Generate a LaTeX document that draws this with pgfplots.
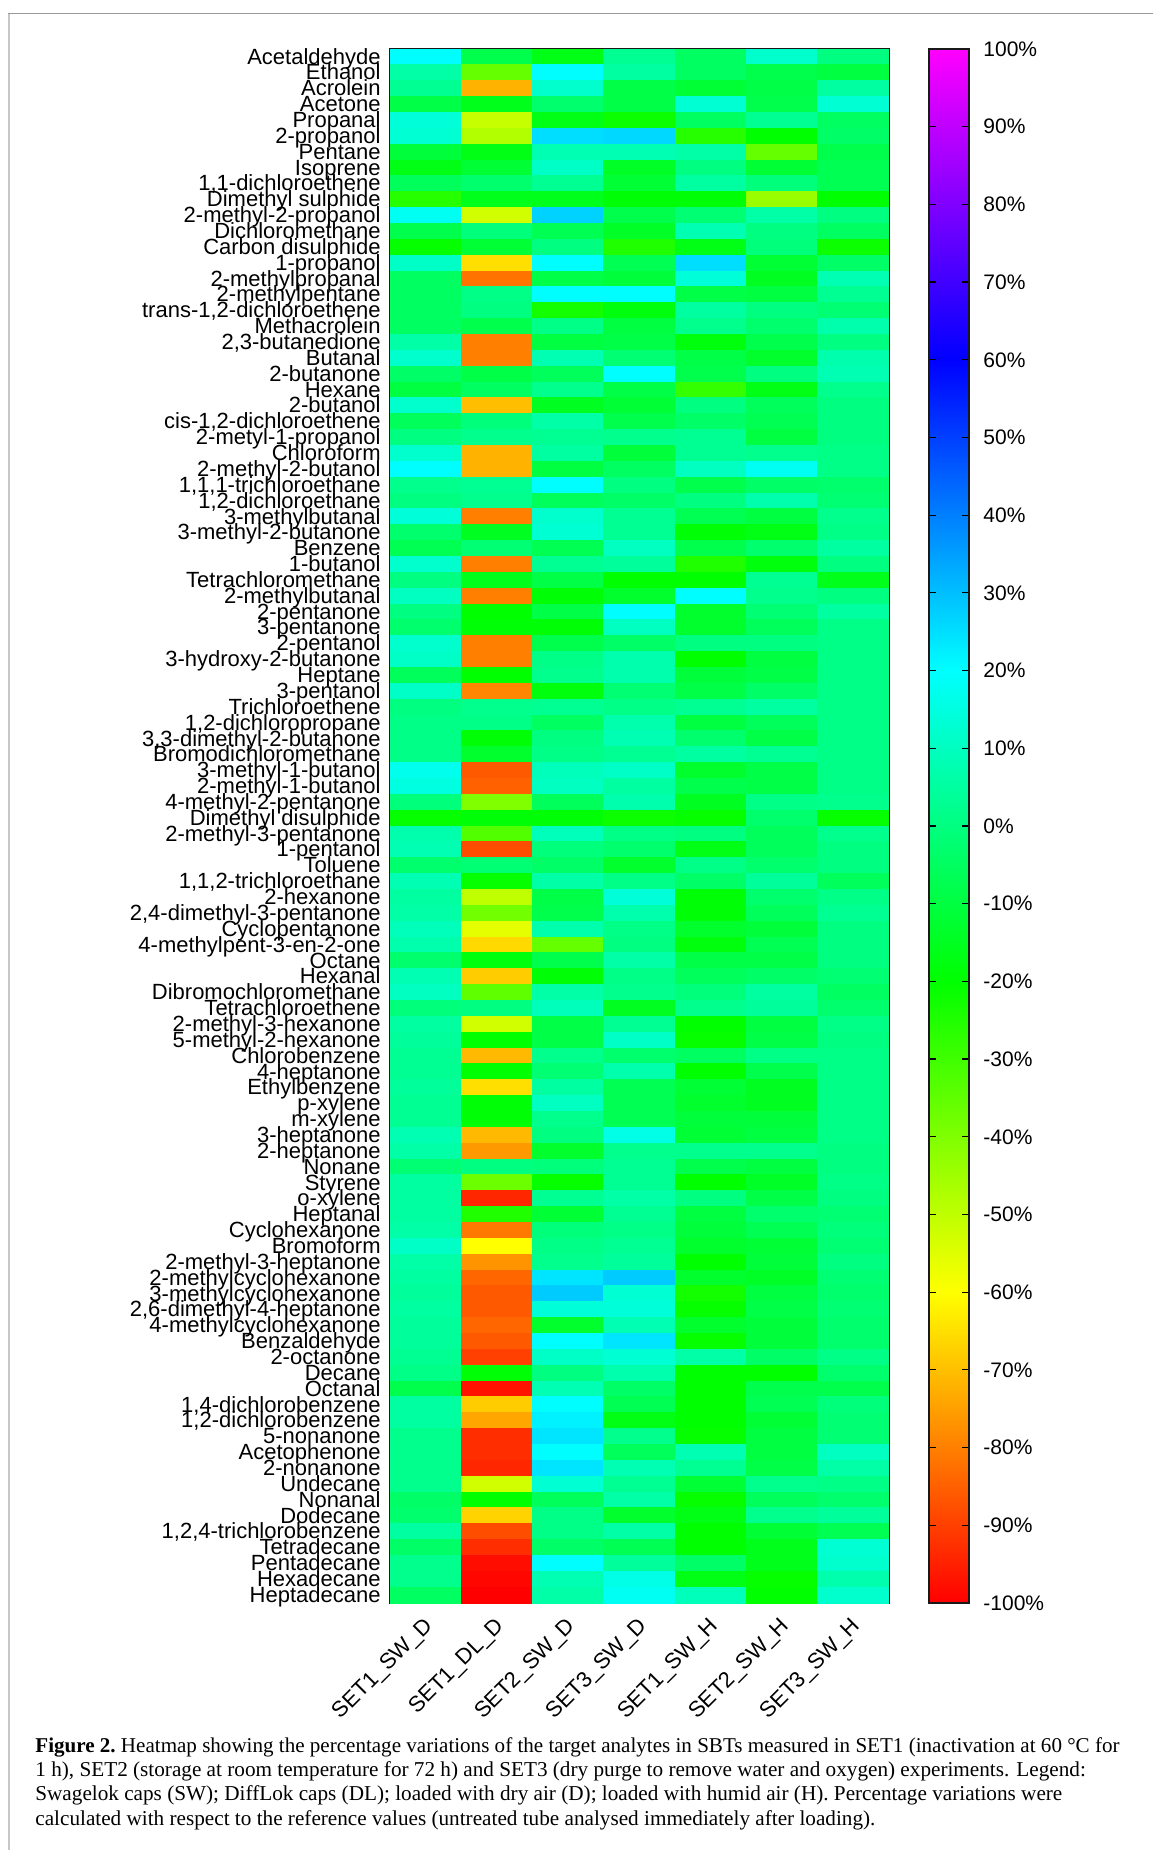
\documentclass[border=0pt]{standalone}
\usepackage{pgfplots}
\pgfplotsset{compat=1.18}
\usepackage{fontspec}
\setmainfont{Liberation Sans}
\newfontfamily\capfont{Liberation Serif}
\pgfplotsset{colormap={hsvgp}{rgb255(0)=(255,0,0) rgb255(2)=(255,255,0) rgb255(4)=(0,255,0) rgb255(6)=(0,255,255) rgb255(8)=(0,0,255) rgb255(10)=(255,0,255)}}
\begin{document}
\begin{tikzpicture}
% 1 px of the reference = 0.5pt
\path[use as bounding box] (0,0) rectangle (576.5pt,925pt);
\draw[black!22,line width=1pt] (4.5pt,918.5pt) -- (4.5pt,0pt);
\draw[black!40,line width=0.6pt] (4pt,918.2pt) -- (576.5pt,918.2pt);
\begin{axis}[
  at={(195pt,123.5pt)}, anchor=south west,
  scale only axis, width=249.5pt, height=777pt,
  xmin=-0.5, xmax=6.5, ymin=-0.5, ymax=97.5, y dir=reverse,
  axis line style={line width=0.8pt,black!90},
  tick style={draw=none}, major tick length=0pt,
  xtick={0,...,6},
  xticklabels={SET1\_SW\_D,SET1\_DL\_D,SET2\_SW\_D,SET3\_SW\_D,SET1\_SW\_H,SET2\_SW\_H,SET3\_SW\_H},
  xticklabel style={rotate=45,anchor=north east,font=\fontsize{11}{11}\selectfont,inner sep=0pt,yshift=-3.35pt,xshift=-5.5pt},
  ytick={0,...,97},
  yticklabels={Acetaldehyde,Ethanol,Acrolein,Acetone,Propanal,2-propanol,Pentane,Isoprene,1{,}1-dichloroethene,Dimethyl sulphide,2-methyl-2-propanol,Dichloromethane,Carbon disulphide,1-propanol,2-methylpropanal,2-methylpentane,trans-1{,}2-dichloroethene,Methacrolein,2{,}3-butanedione,Butanal,2-butanone,Hexane,2-butanol,cis-1{,}2-dichloroethene,2-metyl-1-propanol,Chloroform,2-methyl-2-butanol,1{,}1{,}1-trichloroethane,1{,}2-dichloroethane,3-methylbutanal,3-methyl-2-butanone,Benzene,1-butanol,Tetrachloromethane,2-methylbutanal,2-pentanone,3-pentanone,2-pentanol,3-hydroxy-2-butanone,Heptane,3-pentanol,Trichloroethene,1{,}2-dichloropropane,3{,}3-dimethyl-2-butanone,Bromodichloromethane,3-methyl-1-butanol,2-methyl-1-butanol,4-methyl-2-pentanone,Dimethyl disulphide,2-methyl-3-pentanone,1-pentanol,Toluene,1{,}1{,}2-trichloroethane,2-hexanone,2{,}4-dimethyl-3-pentanone,Cyclopentanone,4-methylpent-3-en-2-one,Octane,Hexanal,Dibromochloromethane,Tetrachloroethene,2-methyl-3-hexanone,5-methyl-2-hexanone,Chlorobenzene,4-heptanone,Ethylbenzene,p-xylene,m-xylene,3-heptanone,2-heptanone,Nonane,Styrene,o-xylene,Heptanal,Cyclohexanone,Bromoform,2-methyl-3-heptanone,2-methylcyclohexanone,3-methylcyclohexanone,2{,}6-dimethyl-4-heptanone,4-methylcyclohexanone,Benzaldehyde,2-octanone,Decane,Octanal,1{,}4-dichlorobenzene,1{,}2-dichlorobenzene,5-nonanone,Acetophenone,2-nonanone,Undecane,Nonanal,Dodecane,1{,}2{,}4-trichlorobenzene,Tetradecane,Pentadecane,Hexadecane,Heptadecane},
  yticklabel style={font=\fontsize{11}{11}\selectfont,anchor=base east,inner sep=0pt,xshift=-4.5pt,yshift=-3.6pt},
  point meta min=-100, point meta max=100,
]
\addplot[matrix plot*, mesh/cols=7, point meta=explicit]
  table[row sep=\\, x=x, y=y, meta=v] {
x y v\\
0 0 20\\ 1 0 -8\\ 2 0 -17\\ 3 0 3\\ 4 0 -5\\ 5 0 12\\ 6 0 0\\
0 1 6\\ 1 1 -36\\ 2 1 20\\ 3 1 5\\ 4 1 -5\\ 5 1 -8\\ 6 1 -10\\
0 2 3\\ 1 2 -72\\ 2 2 12\\ 3 2 -9\\ 4 2 -12\\ 5 2 -9\\ 6 2 5\\
0 3 -9\\ 1 3 -16\\ 2 3 -3\\ 3 3 -9\\ 4 3 13\\ 5 3 -8\\ 6 3 13\\
0 4 14\\ 1 4 -51\\ 2 4 -17\\ 3 4 -22\\ 4 4 -5\\ 5 4 3\\ 6 4 -5\\
0 5 13\\ 1 5 -48\\ 2 5 25\\ 3 5 26\\ 4 5 -26\\ 5 5 -20\\ 6 5 -4\\
0 6 -11\\ 1 6 -17\\ 2 6 8\\ 3 6 8\\ 4 6 6\\ 5 6 -36\\ 6 6 -8\\
0 7 -17\\ 1 7 -12\\ 2 7 11\\ 3 7 -14\\ 4 7 0\\ 5 7 -12\\ 6 7 -7\\
0 8 -6\\ 1 8 -3\\ 2 8 3\\ 3 8 -12\\ 4 8 5\\ 5 8 -1\\ 6 8 -7\\
0 9 -26\\ 1 9 -16\\ 2 9 -16\\ 3 9 -19\\ 4 9 -19\\ 5 9 -44\\ 6 9 -20\\
0 10 18\\ 1 10 -53\\ 2 10 27\\ 3 10 -8\\ 4 10 -2\\ 5 10 6\\ 6 10 0\\
0 11 -8\\ 1 11 -1\\ 2 11 -7\\ 3 11 -14\\ 4 11 8\\ 5 11 0\\ 6 11 -5\\
0 12 -21\\ 1 12 -12\\ 2 12 0\\ 3 12 -25\\ 4 12 -17\\ 5 12 -1\\ 6 12 -22\\
0 13 11\\ 1 13 -65\\ 2 13 20\\ 3 13 -7\\ 4 13 25\\ 5 13 -12\\ 6 13 -4\\
0 14 -5\\ 1 14 -82\\ 2 14 -9\\ 3 14 -11\\ 4 14 14\\ 5 14 -15\\ 6 14 8\\
0 15 -5\\ 1 15 1\\ 2 15 20\\ 3 15 20\\ 4 15 -9\\ 5 15 -10\\ 6 15 3\\
0 16 -5\\ 1 16 0\\ 2 16 -23\\ 3 16 -18\\ 4 16 5\\ 5 16 0\\ 6 16 -2\\
0 17 -5\\ 1 17 -8\\ 2 17 1\\ 3 17 -10\\ 4 17 2\\ 5 17 -3\\ 6 17 7\\
0 18 6\\ 1 18 -80\\ 2 18 -10\\ 3 18 -9\\ 4 18 -18\\ 5 18 -8\\ 6 18 0\\
0 19 12\\ 1 19 -80\\ 2 19 8\\ 3 19 -2\\ 4 19 -9\\ 5 19 -13\\ 6 19 7\\
0 20 -4\\ 1 20 -9\\ 2 20 -6\\ 3 20 20\\ 4 20 -8\\ 5 20 0\\ 6 20 8\\
0 21 -10\\ 1 21 -5\\ 2 21 2\\ 3 21 -9\\ 4 21 -28\\ 5 21 -17\\ 6 21 2\\
0 22 12\\ 1 22 -70\\ 2 22 -15\\ 3 22 -12\\ 4 22 0\\ 5 22 -6\\ 6 22 0\\
0 23 -6\\ 1 23 -1\\ 2 23 6\\ 3 23 -8\\ 4 23 -4\\ 5 23 -7\\ 6 23 0\\
0 24 0\\ 1 24 2\\ 2 24 3\\ 3 24 2\\ 4 24 3\\ 5 24 -10\\ 6 24 0\\
0 25 12\\ 1 25 -72\\ 2 25 5\\ 3 25 -11\\ 4 25 3\\ 5 25 2\\ 6 25 1\\
0 26 20\\ 1 26 -72\\ 2 26 -10\\ 3 26 -5\\ 4 26 10\\ 5 26 18\\ 6 26 1\\
0 27 2\\ 1 27 3\\ 2 27 20\\ 3 27 0\\ 4 27 -8\\ 5 27 -4\\ 6 27 -3\\
0 28 0\\ 1 28 2\\ 2 28 -6\\ 3 28 -4\\ 4 28 0\\ 5 28 7\\ 6 28 -2\\
0 29 14\\ 1 29 -80\\ 2 29 12\\ 3 29 3\\ 4 29 -7\\ 5 29 -10\\ 6 29 2\\
0 30 -3\\ 1 30 -15\\ 2 30 13\\ 3 30 3\\ 4 30 -19\\ 5 30 -17\\ 6 30 1\\
0 31 -7\\ 1 31 -2\\ 2 31 -7\\ 3 31 10\\ 4 31 -8\\ 5 31 -3\\ 6 31 5\\
0 32 12\\ 1 32 -80\\ 2 32 3\\ 3 32 4\\ 4 32 -25\\ 5 32 -18\\ 6 32 0\\
0 33 0\\ 1 33 -16\\ 2 33 -9\\ 3 33 -20\\ 4 33 -20\\ 5 33 3\\ 6 33 -16\\
0 34 10\\ 1 34 -80\\ 2 34 -19\\ 3 34 -13\\ 4 34 20\\ 5 34 2\\ 6 34 0\\
0 35 0\\ 1 35 -20\\ 2 35 -9\\ 3 35 20\\ 4 35 -13\\ 5 35 -2\\ 6 35 5\\
0 36 -3\\ 1 36 -19\\ 2 36 -19\\ 3 36 10\\ 4 36 -13\\ 5 36 -6\\ 6 36 1\\
0 37 12\\ 1 37 -80\\ 2 37 -8\\ 3 37 -4\\ 4 37 0\\ 5 37 0\\ 6 37 1\\
0 38 11\\ 1 38 -80\\ 2 38 1\\ 3 38 7\\ 4 38 -20\\ 5 38 -10\\ 6 38 1\\
0 39 -6\\ 1 39 -20\\ 2 39 2\\ 3 39 7\\ 4 39 -11\\ 5 39 -9\\ 6 39 1\\
0 40 11\\ 1 40 -79\\ 2 40 -18\\ 3 40 -2\\ 4 40 -9\\ 5 40 -4\\ 6 40 1\\
0 41 0\\ 1 41 2\\ 2 41 3\\ 3 41 1\\ 4 41 3\\ 5 41 5\\ 6 41 1\\
0 42 1\\ 1 42 1\\ 2 42 -5\\ 3 42 7\\ 4 42 -10\\ 5 42 -6\\ 6 42 1\\
0 43 1\\ 1 43 -19\\ 2 43 0\\ 3 43 8\\ 4 43 -3\\ 5 43 -9\\ 6 43 1\\
0 44 1\\ 1 44 -13\\ 2 44 1\\ 3 44 3\\ 4 44 5\\ 5 44 3\\ 6 44 1\\
0 45 17\\ 1 45 -86\\ 2 45 9\\ 3 45 11\\ 4 45 -13\\ 5 45 -9\\ 6 45 1\\
0 46 15\\ 1 46 -85\\ 2 46 10\\ 3 46 5\\ 4 46 -8\\ 5 46 -9\\ 6 46 1\\
0 47 -1\\ 1 47 -40\\ 2 47 -6\\ 3 47 7\\ 4 47 -15\\ 5 47 1\\ 6 47 2\\
0 48 -21\\ 1 48 -19\\ 2 48 -19\\ 3 48 -22\\ 4 48 -21\\ 5 48 -3\\ 6 48 -21\\
0 49 7\\ 1 49 -33\\ 2 49 9\\ 3 49 1\\ 4 49 0\\ 5 49 -6\\ 6 49 2\\
0 50 8\\ 1 50 -88\\ 2 50 -1\\ 3 50 -3\\ 4 50 -17\\ 5 50 -6\\ 6 50 0\\
0 51 -3\\ 1 51 -2\\ 2 51 -4\\ 3 51 -13\\ 4 51 1\\ 5 51 -3\\ 6 51 0\\
0 52 8\\ 1 52 -21\\ 2 52 6\\ 3 52 1\\ 4 52 -4\\ 5 52 4\\ 6 52 -6\\
0 53 5\\ 1 53 -50\\ 2 53 -9\\ 3 53 14\\ 4 53 -19\\ 5 53 -3\\ 6 53 1\\
0 54 6\\ 1 54 -38\\ 2 54 -8\\ 3 54 7\\ 4 54 -19\\ 5 54 -6\\ 6 54 3\\
0 55 9\\ 1 55 -56\\ 2 55 7\\ 3 55 1\\ 4 55 -13\\ 5 55 -11\\ 6 55 0\\
0 56 7\\ 1 56 -66\\ 2 56 -36\\ 3 56 0\\ 4 56 -18\\ 5 56 -7\\ 6 56 0\\
0 57 -3\\ 1 57 -18\\ 2 57 -8\\ 3 57 6\\ 4 57 -9\\ 5 57 -9\\ 6 57 0\\
0 58 8\\ 1 58 -68\\ 2 58 -19\\ 3 58 1\\ 4 58 -6\\ 5 58 -4\\ 6 58 -2\\
0 59 10\\ 1 59 -35\\ 2 59 6\\ 3 59 2\\ 4 59 -1\\ 5 59 5\\ 6 59 -5\\
0 60 -1\\ 1 60 0\\ 2 60 9\\ 3 60 -15\\ 4 60 2\\ 5 60 4\\ 6 60 -3\\
0 61 5\\ 1 61 -53\\ 2 61 -9\\ 3 61 3\\ 4 61 -20\\ 5 61 -10\\ 6 61 1\\
0 62 4\\ 1 62 -20\\ 2 62 -9\\ 3 62 11\\ 4 62 -21\\ 5 62 -9\\ 6 62 0\\
0 63 3\\ 1 63 -71\\ 2 63 2\\ 3 63 -3\\ 4 63 -5\\ 5 63 1\\ 6 63 1\\
0 64 3\\ 1 64 -20\\ 2 64 -2\\ 3 64 7\\ 4 64 -20\\ 5 64 -8\\ 6 64 1\\
0 65 4\\ 1 65 -65\\ 2 65 5\\ 3 65 -7\\ 4 65 -12\\ 5 65 -15\\ 6 65 1\\
0 66 3\\ 1 66 -19\\ 2 66 10\\ 3 66 -7\\ 4 66 -13\\ 5 66 -15\\ 6 66 1\\
0 67 3\\ 1 67 -19\\ 2 67 2\\ 3 67 -7\\ 4 67 -11\\ 5 67 -11\\ 6 67 1\\
0 68 8\\ 1 68 -71\\ 2 68 0\\ 3 68 16\\ 4 68 -12\\ 5 68 -10\\ 6 68 1\\
0 69 6\\ 1 69 -76\\ 2 69 -13\\ 3 69 2\\ 4 69 2\\ 5 69 2\\ 6 69 0\\
0 70 -2\\ 1 70 0\\ 2 70 -1\\ 3 70 3\\ 4 70 -8\\ 5 70 -10\\ 6 70 0\\
0 71 5\\ 1 71 -37\\ 2 71 -21\\ 3 71 3\\ 4 71 -20\\ 5 71 -14\\ 6 71 1\\
0 72 5\\ 1 72 -94\\ 2 72 3\\ 3 72 6\\ 4 72 0\\ 5 72 -9\\ 6 72 0\\
0 73 5\\ 1 73 -25\\ 2 73 -12\\ 3 73 3\\ 4 73 -10\\ 5 73 -3\\ 6 73 -2\\
0 74 6\\ 1 74 -81\\ 2 74 -1\\ 3 74 1\\ 4 74 -11\\ 5 74 -7\\ 6 74 -1\\
0 75 11\\ 1 75 -60\\ 2 75 1\\ 3 75 3\\ 4 75 -13\\ 5 75 -12\\ 6 75 -2\\
0 76 6\\ 1 76 -77\\ 2 76 2\\ 3 76 4\\ 4 76 -20\\ 5 76 -11\\ 6 76 0\\
0 77 5\\ 1 77 -84\\ 2 77 24\\ 3 77 28\\ 4 77 -13\\ 5 77 -14\\ 6 77 -2\\
0 78 4\\ 1 78 -86\\ 2 78 28\\ 3 78 13\\ 4 78 -23\\ 5 78 -10\\ 6 78 -3\\
0 79 5\\ 1 79 -86\\ 2 79 14\\ 3 79 14\\ 4 79 -21\\ 5 79 -9\\ 6 79 -2\\
0 80 4\\ 1 80 -84\\ 2 80 -13\\ 3 80 8\\ 4 80 -13\\ 5 80 -11\\ 6 80 -3\\
0 81 4\\ 1 81 -86\\ 2 81 20\\ 3 81 24\\ 4 81 -21\\ 5 81 -11\\ 6 81 -3\\
0 82 3\\ 1 82 -90\\ 2 82 11\\ 3 82 13\\ 4 82 6\\ 5 82 -4\\ 6 82 1\\
0 83 1\\ 1 83 -19\\ 2 83 0\\ 3 83 7\\ 4 83 -20\\ 5 83 -20\\ 6 83 -3\\
0 84 -8\\ 1 84 -97\\ 2 84 8\\ 3 84 -4\\ 4 84 -20\\ 5 84 -8\\ 6 84 -8\\
0 85 5\\ 1 85 -68\\ 2 85 20\\ 3 85 -7\\ 4 85 -20\\ 5 85 -7\\ 6 85 -1\\
0 86 5\\ 1 86 -74\\ 2 86 22\\ 3 86 -17\\ 4 86 -20\\ 5 86 -12\\ 6 86 -2\\
0 87 2\\ 1 87 -93\\ 2 87 24\\ 3 87 2\\ 4 87 -21\\ 5 87 -10\\ 6 87 -2\\
0 88 2\\ 1 88 -93\\ 2 88 20\\ 3 88 -6\\ 4 88 8\\ 5 88 -10\\ 6 88 10\\
0 89 2\\ 1 89 -94\\ 2 89 24\\ 3 89 8\\ 4 89 3\\ 5 89 -9\\ 6 89 6\\
0 90 2\\ 1 90 -53\\ 2 90 13\\ 3 90 3\\ 4 90 -12\\ 5 90 2\\ 6 90 1\\
0 91 -4\\ 1 91 -20\\ 2 91 -6\\ 3 91 6\\ 4 91 -21\\ 5 91 -6\\ 6 91 -3\\
0 92 -3\\ 1 92 -67\\ 2 92 1\\ 3 92 -13\\ 4 92 -17\\ 5 92 2\\ 6 92 4\\
0 93 5\\ 1 93 -88\\ 2 93 1\\ 3 93 6\\ 4 93 -20\\ 5 93 -12\\ 6 93 -7\\
0 94 -4\\ 1 94 -93\\ 2 94 -4\\ 3 94 -7\\ 4 94 -20\\ 5 94 -16\\ 6 94 13\\
0 95 2\\ 1 95 -98\\ 2 95 20\\ 3 95 4\\ 4 95 -4\\ 5 95 -16\\ 6 95 12\\
0 96 2\\ 1 96 -99\\ 2 96 8\\ 3 96 16\\ 4 96 -17\\ 5 96 -21\\ 6 96 7\\
0 97 -5\\ 1 97 -100\\ 2 97 6\\ 3 97 18\\ 4 97 9\\ 5 97 -20\\ 6 97 12\\
};
\end{axis}
% colour scale, as its own axis so the ticks can sit inside on both sides
\begin{axis}[
  at={(464.5pt,123.5pt)}, anchor=south west,
  scale only axis, width=20pt, height=777pt,
  xmin=0, xmax=1, ymin=-100, ymax=100, axis on top,
  axis line style={line width=0.8pt,black!90},
  xtick=\empty,
  ytick={-100,-90,...,100},
  yticklabels={-100\%,-90\%,-80\%,-70\%,-60\%,-50\%,-40\%,-30\%,-20\%,-10\%,0\%,10\%,20\%,30\%,40\%,50\%,60\%,70\%,80\%,90\%,100\%},
  yticklabel style={font=\fontsize{10.5}{10.5}\selectfont,anchor=west,inner sep=0pt},
  yticklabel shift=7pt,
  ytick style={draw=black,line width=0.6pt},
  major tick length=3.5pt, tick align=inside, ytick pos=both, yticklabel pos=right,
  point meta min=-100, point meta max=100,
]
\addplot[surf, shader=interp, mesh/rows=2, mesh/cols=2, point meta=y]
  coordinates {(0,-100) (1,-100) (0,100) (1,100)};
\end{axis}
\tikzset{capline/.style={anchor=base west,inner sep=0pt,font=\capfont\fontsize{10.6}{12}\selectfont}}
\node[capline,font=\capfont\fontsize{10.53}{12}\selectfont\frenchspacing] at (17.5pt,48.5pt) {\textbf{Figure 2.} Heatmap showing the percentage variations of the target analytes in SBTs measured in SET1 (inactivation at 60 °C for};
\node[capline] at (17.5pt,36.5pt) {1 h), SET2 (storage at room temperature for 72 h) and SET3 (dry purge to remove water and oxygen) experiments. Legend:};
\node[capline] at (17.5pt,24.5pt) {Swagelok caps (SW); DiffLok caps (DL); loaded with dry air (D); loaded with humid air (H). Percentage variations were};
\node[capline] at (17.5pt,12.5pt) {calculated with respect to the reference values (untreated tube analysed immediately after loading).};
\end{tikzpicture}
\end{document}
